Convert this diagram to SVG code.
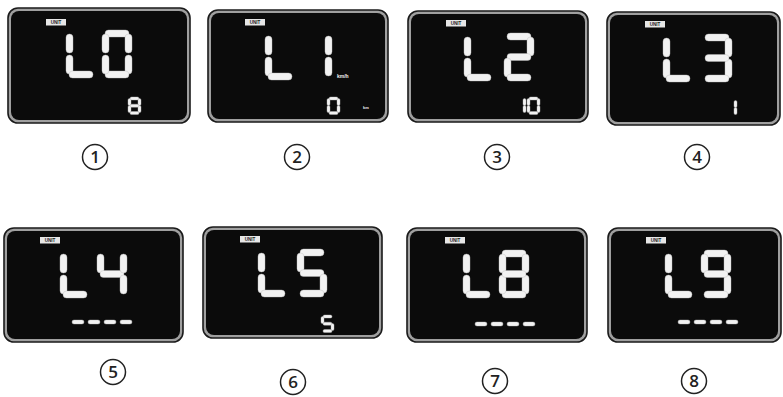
<svg xmlns="http://www.w3.org/2000/svg" xmlns:xlink="http://www.w3.org/1999/xlink" width="783" height="397" viewBox="0 0 783 397">
<style>
.seg{fill:#f2f2f2;stroke:#bbb;stroke-width:0.4}
.frame{fill:#a0a0a0;stroke:#1a1a1a;stroke-width:1.6}
.screen{fill:#0b0b0b}
.tag{fill:#e6e6e6}
.tagt{font-family:"Liberation Sans",Arial,sans-serif;font-size:4.6px;font-weight:bold;fill:#222}
.unit{font-family:"Liberation Sans",Arial,sans-serif;fill:#f2f2f2;font-weight:bold}
.cir{fill:none;stroke:#222;stroke-width:1.5}
.num{font-family:"Open Sans","DejaVu Sans",sans-serif;font-size:17px;font-weight:600;fill:#222;text-anchor:middle}
</style>
<defs>
<rect id="sh" class="seg" width="24" height="7" rx="3.5"/>
<rect id="sv" class="seg" width="7" height="19" rx="3.5"/>
<rect id="th" class="seg" width="9" height="3" rx="1.5"/>
<rect id="tv" class="seg" width="3" height="7" rx="1.5"/>
<rect id="dash" class="seg" width="12" height="4" rx="2"/>
<g id="bigL"><use href="#sv" x="0" y="4"/><use href="#sv" x="0" y="25"/><use href="#sh" x="3" y="41"/></g>
<g id="dots"><use href="#dash" x="68"/><use href="#dash" x="84"/><use href="#dash" x="100"/><use href="#dash" x="116"/></g>
</defs>

<g id="panel1" transform="translate(8,8)">
<rect class="frame" width="182" height="115" rx="10"/>
<rect class="screen" x="3" y="3" width="176" height="109" rx="8"/>
<rect class="tag" x="38" y="11" width="20" height="6.5"/><text class="tagt" x="48" y="16.3" text-anchor="middle">UNIT</text>
<use href="#bigL" x="58" y="22"/>
<g transform="translate(94,22)"><use href="#sh" x="3" y="0"/><use href="#sv" x="23" y="4"/><use href="#sv" x="23" y="25"/><use href="#sh" x="3" y="41"/><use href="#sv" x="0" y="25"/><use href="#sv" x="0" y="4"/></g>
<g transform="translate(120,89)"><use href="#th" x="2" y="0"/><use href="#tv" x="10" y="1.5"/><use href="#tv" x="10" y="8.5"/><use href="#th" x="2" y="14.5"/><use href="#tv" x="0" y="8.5"/><use href="#tv" x="0" y="1.5"/><use href="#th" x="2" y="7.2"/></g>
</g>

<g id="panel2" transform="translate(208,10)">
<rect class="frame" width="180" height="112" rx="10"/>
<rect class="screen" x="3" y="3" width="174" height="106" rx="8"/>
<rect class="tag" x="37" y="9" width="20" height="6.5"/><text class="tagt" x="47" y="14.3" text-anchor="middle">UNIT</text>
<use href="#bigL" x="57" y="22"/>
<g transform="translate(94,22)"><use href="#sv" x="23" y="4"/><use href="#sv" x="23" y="25"/></g>
<text class="unit" x="129" y="68" font-size="5">km/h</text>
<g transform="translate(119,87)"><use href="#th" x="2" y="0"/><use href="#tv" x="10" y="1.5"/><use href="#tv" x="10" y="8.5"/><use href="#th" x="2" y="14.5"/><use href="#tv" x="0" y="8.5"/><use href="#tv" x="0" y="1.5"/></g>
<text class="unit" x="155" y="99" font-size="4">km</text>
</g>

<g id="panel3" transform="translate(408,11)">
<rect class="frame" width="180" height="111" rx="10"/>
<rect class="screen" x="3" y="3" width="174" height="105" rx="8"/>
<rect class="tag" x="38" y="9" width="20" height="6.5"/><text class="tagt" x="48" y="14.3" text-anchor="middle">UNIT</text>
<use href="#bigL" x="56" y="22"/>
<g transform="translate(96,22)"><use href="#sh" x="3" y="0"/><use href="#sv" x="23" y="4"/><use href="#sh" x="3" y="20.5"/><use href="#sv" x="0" y="25"/><use href="#sh" x="3" y="41"/></g>
<g transform="translate(115,86)"><use href="#tv" x="0" y="1.5"/><use href="#tv" x="0" y="8.5"/></g>
<g transform="translate(119,86)"><use href="#th" x="2" y="0"/><use href="#tv" x="10" y="1.5"/><use href="#tv" x="10" y="8.5"/><use href="#th" x="2" y="14.5"/><use href="#tv" x="0" y="8.5"/><use href="#tv" x="0" y="1.5"/></g>
</g>

<g id="panel4" transform="translate(607,12)">
<rect class="frame" width="173" height="113" rx="10"/>
<rect class="screen" x="3" y="3" width="167" height="107" rx="8"/>
<rect class="tag" x="38" y="9" width="20" height="6.5"/><text class="tagt" x="48" y="14.3" text-anchor="middle">UNIT</text>
<use href="#bigL" x="56" y="22"/>
<g transform="translate(95,22)"><use href="#sh" x="3" y="0"/><use href="#sv" x="23" y="4"/><use href="#sv" x="23" y="25"/><use href="#sh" x="3" y="41"/><use href="#sh" x="3" y="20.5"/></g>
<g transform="translate(127,87)"><use href="#tv" x="0" y="1.5"/><use href="#tv" x="0" y="8.5"/></g>
</g>

<g id="panel5" transform="translate(4,228)">
<rect class="frame" width="179" height="114" rx="10"/>
<rect class="screen" x="3" y="3" width="173" height="108" rx="8"/>
<rect class="tag" x="36" y="9" width="20" height="6.5"/><text class="tagt" x="46" y="14.3" text-anchor="middle">UNIT</text>
<use href="#bigL" x="56" y="22"/>
<g transform="translate(93,22)"><use href="#sv" x="0" y="4"/><use href="#sh" x="3" y="20.5"/><use href="#sv" x="23" y="4"/><use href="#sv" x="23" y="25"/></g>
<use href="#dots" x="0" y="92"/>
</g>

<g id="panel6" transform="translate(203,227)">
<rect class="frame" width="179" height="111" rx="10"/>
<rect class="screen" x="3" y="3" width="173" height="105" rx="8"/>
<rect class="tag" x="37" y="9" width="20" height="6.5"/><text class="tagt" x="47" y="14.3" text-anchor="middle">UNIT</text>
<use href="#bigL" x="55" y="22"/>
<g transform="translate(94,22)"><use href="#sh" x="3" y="0"/><use href="#sv" x="0" y="4"/><use href="#sh" x="3" y="20.5"/><use href="#sv" x="23" y="25"/><use href="#sh" x="3" y="41"/></g>
<g transform="translate(118,88)"><use href="#th" x="2" y="0"/><use href="#tv" x="0" y="1.5"/><use href="#th" x="2" y="7.2"/><use href="#tv" x="10" y="8.5"/><use href="#th" x="2" y="14.5"/></g>
</g>

<g id="panel7" transform="translate(407,228)">
<rect class="frame" width="180" height="114" rx="10"/>
<rect class="screen" x="3" y="3" width="174" height="108" rx="8"/>
<rect class="tag" x="38" y="9" width="20" height="6.5"/><text class="tagt" x="48" y="14.3" text-anchor="middle">UNIT</text>
<use href="#bigL" x="56" y="22"/>
<g transform="translate(92,22)"><use href="#sh" x="3" y="0"/><use href="#sv" x="23" y="4"/><use href="#sv" x="23" y="25"/><use href="#sh" x="3" y="41"/><use href="#sv" x="0" y="25"/><use href="#sv" x="0" y="4"/><use href="#sh" x="3" y="20.5"/></g>
<use href="#dots" x="0" y="94"/>
</g>

<g id="panel8" transform="translate(608,228)">
<rect class="frame" width="173" height="114" rx="10"/>
<rect class="screen" x="3" y="3" width="167" height="108" rx="8"/>
<rect class="tag" x="38" y="9" width="20" height="6.5"/><text class="tagt" x="48" y="14.3" text-anchor="middle">UNIT</text>
<use href="#bigL" x="57" y="22"/>
<g transform="translate(93,22)"><use href="#sh" x="3" y="0"/><use href="#sv" x="23" y="4"/><use href="#sv" x="23" y="25"/><use href="#sh" x="3" y="41"/><use href="#sv" x="0" y="4"/><use href="#sh" x="3" y="20.5"/></g>
<use href="#dots" x="2" y="92"/>
</g>

<g id="labels">
<circle class="cir" cx="95" cy="157" r="12.5"/><text class="num" x="95" y="163">1</text>
<circle class="cir" cx="297" cy="157" r="12.5"/><text class="num" x="297" y="163">2</text>
<circle class="cir" cx="497" cy="157" r="12.5"/><text class="num" x="497" y="163">3</text>
<circle class="cir" cx="697" cy="157" r="12.5"/><text class="num" x="697" y="163">4</text>
<circle class="cir" cx="113" cy="372" r="12.5"/><text class="num" x="113" y="378">5</text>
<circle class="cir" cx="293" cy="382" r="12.5"/><text class="num" x="293" y="388">6</text>
<circle class="cir" cx="495" cy="381" r="12.5"/><text class="num" x="495" y="387">7</text>
<circle class="cir" cx="694" cy="381" r="12.5"/><text class="num" x="694" y="387">8</text>
</g>
</svg>
